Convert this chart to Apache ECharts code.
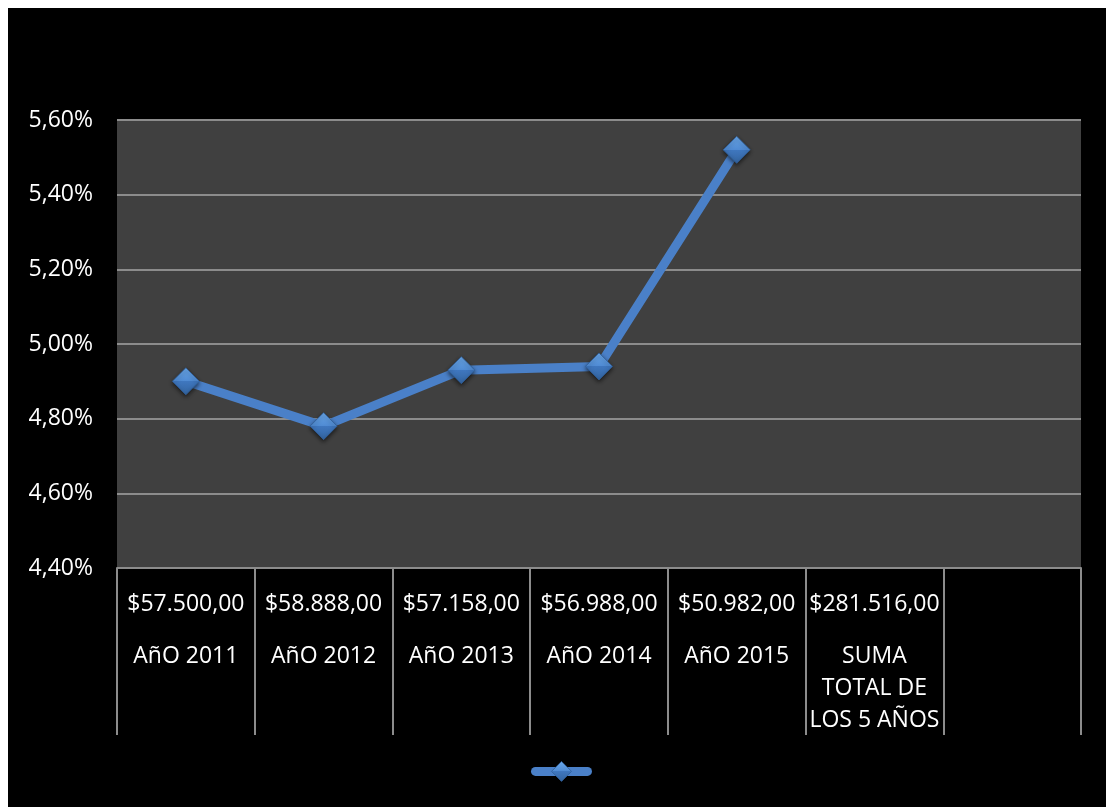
<!DOCTYPE html>
<html>
<head>
<meta charset="utf-8">
<script src="https://cdn.jsdelivr.net/npm/echarts@6/dist/echarts.min.js"></script>
<style>
  html, body { margin: 0; padding: 0; background: #ffffff; }
  #chart { position: absolute; left: 8px; top: 8px; width: 1098px; height: 799px; background: #000000; }
</style>
</head>
<body>
<div id="chart"></div>
<script>
// Category captions (bottom line of each axis label)
const categories = ['AñO 2011', 'AñO 2012', 'AñO 2013', 'AñO 2014', 'AñO 2015', 'SUMA\nTOTAL DE\nLOS 5 AÑOS', ''];
// Amounts shown above each caption
const amounts = ['$57.500,00', '$58.888,00', '$57.158,00', '$56.988,00', '$50.982,00', '$281.516,00', ''];
// Percentage per year (in %)
const rates = [4.90, 4.78, 4.93, 4.94, 5.52];
// Value axis range and step (in %)
const yMin = 4.4, yMax = 5.6, yStep = 0.2;

const font = '"Open Sans", "Noto Sans", sans-serif';
const gray = '#8c8c8c';
const lineColor = '#4a80c8';

const diamondFill = new echarts.graphic.LinearGradient(0, 0, 0, 1, [
  { offset: 0, color: '#6aa8ea' },
  { offset: 0.5, color: '#4f8ad2' },
  { offset: 0.5, color: '#3f77bf' },
  { offset: 1, color: '#33649f' }
]);

const chart = echarts.init(document.getElementById('chart'), null, { renderer: 'canvas' });

chart.setOption({
  backgroundColor: '#000000',
  animation: false,
  grid: {
    left: 109, right: 25, top: 112, bottom: 239,
    show: true, backgroundColor: '#404040', borderWidth: 0
  },
  legend: {
    left: 518, top: 748,
    itemWidth: 52, itemHeight: 25, itemGap: 0,
    textStyle: { color: '#ffffff', fontSize: 2 },
    lineStyle: { width: 9, cap: 'round', color: lineColor },
    itemStyle: { color: diamondFill, borderColor: '#2f5e99', borderWidth: 0.8 },
    data: [' ']
  },
  xAxis: {
    type: 'category',
    data: categories,
    boundaryGap: true,
    axisLine: { show: true, lineStyle: { color: gray, width: 2 } },
    axisTick: { show: true, length: 167, lineStyle: { color: gray, width: 2 } },
    splitLine: { show: false },
    axisLabel: {
      interval: 0,
      margin: 0,
      color: '#ffffff',
      fontFamily: font,
      fontSize: 23,
      formatter: function (value, index) {
        const lines = value ? value.split('\n').map(l => '{b|' + l + '}').join('\n') : '{b| }';
        return '{a|' + (amounts[index] || ' ') + '}\n' + lines;
      },
      rich: {
        a: { color: '#ffffff', fontFamily: font, fontSize: 23, lineHeight: 72 },
        b: { color: '#ffffff', fontFamily: font, fontSize: 23, lineHeight: 32 }
      }
    }
  },
  yAxis: {
    type: 'value',
    min: yMin, max: yMax, interval: yStep,
    axisLine: { show: false },
    axisTick: { show: false },
    splitLine: { show: true, lineStyle: { color: gray, width: 2 } },
    axisLabel: {
      margin: 24,
      color: '#ffffff',
      fontFamily: font,
      fontSize: 23,
      formatter: v => v.toFixed(2).replace('.', ',') + '%'
    }
  },
  series: [{
    name: ' ',
    type: 'line',
    data: rates,
    symbol: 'diamond',
    symbolSize: 27,
    lineStyle: { color: lineColor, width: 9 },
    itemStyle: {
      color: diamondFill,
      borderColor: '#2f5e99',
      borderWidth: 0.8,
      shadowColor: 'rgba(0,0,0,0.6)',
      shadowBlur: 4,
      shadowOffsetY: 2
    },
    emphasis: { disabled: true }
  }]
});
</script>
</body>
</html>
